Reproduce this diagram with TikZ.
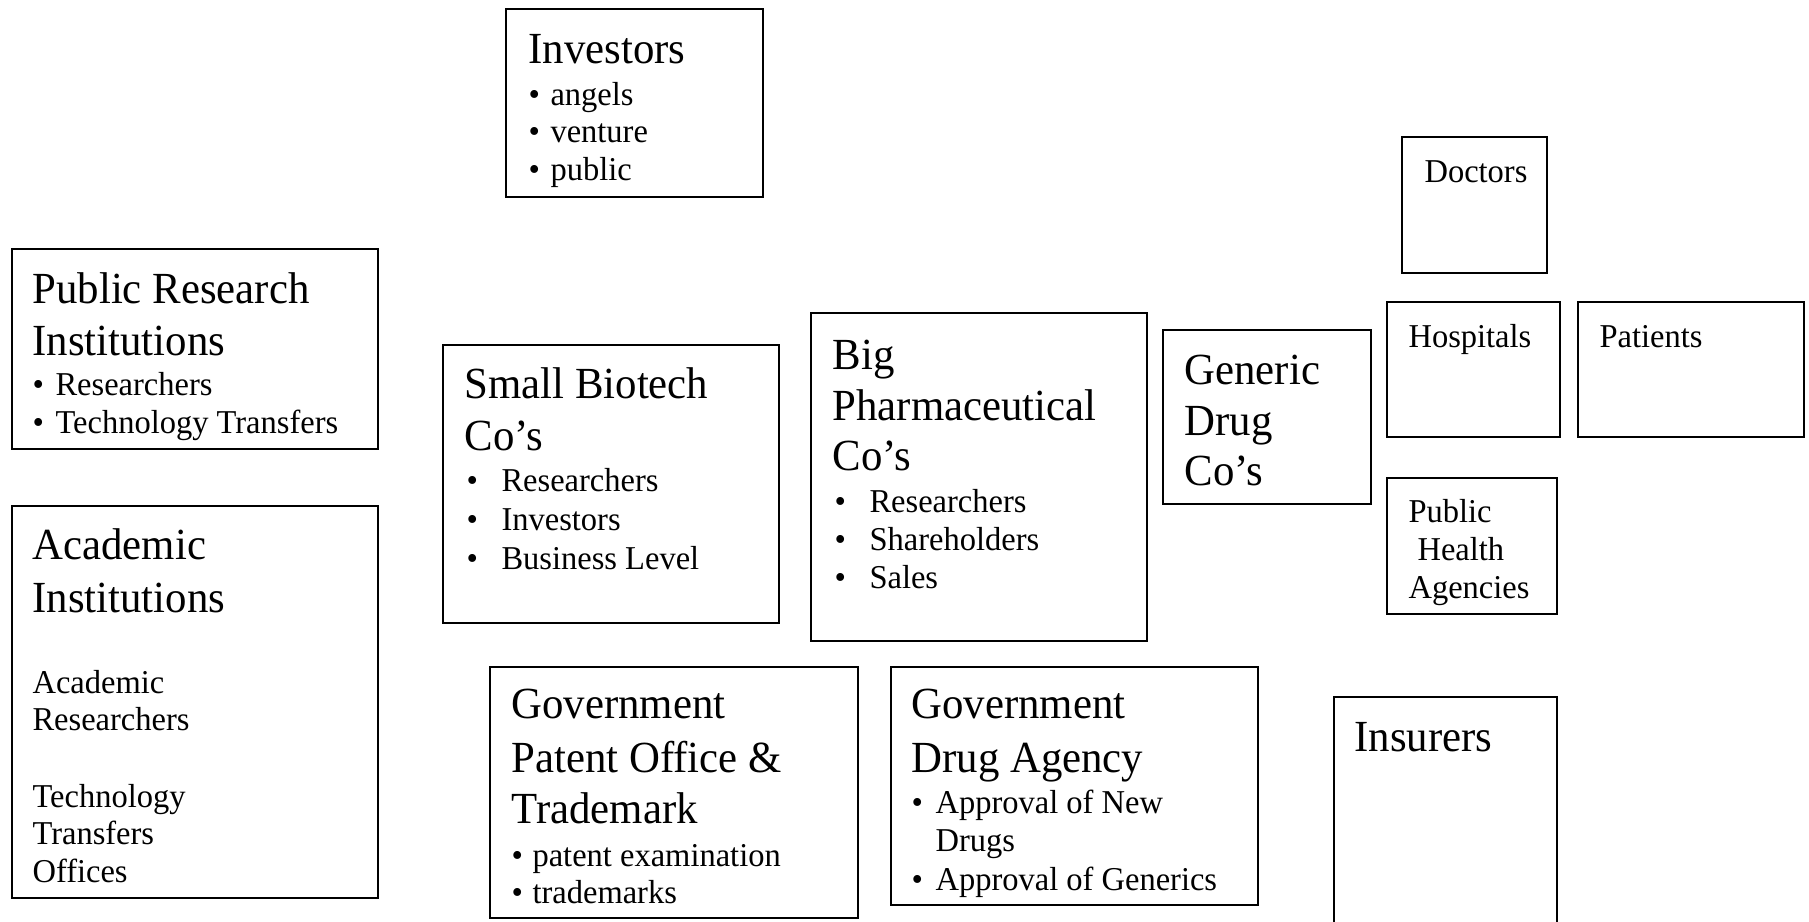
\documentclass[tikz,border=0pt]{standalone}
\usepackage{fontspec}
\setmainfont{Liberation Serif}[FakeStretch=0.963]
\newfontfamily\smallfnt{Liberation Serif}[FakeStretch=0.975]
\usetikzlibrary{fit}
\newlength\pxu \setlength\pxu{0.36pt}
\newcommand\bitem[2]{\makebox[#1\pxu][l]{•}#2}
\begin{document}
\begin{tikzpicture}[x=0.36pt,y=-0.36pt,
 box/.style={draw, line width=0.6pt, inner sep=0pt},
 big/.style={anchor=base west, inner sep=0pt, yshift=-0.9pt, font=\fontsize{16}{18}\selectfont},
 sml/.style={anchor=base west, inner sep=0pt, yshift=-1.45pt, font=\smallfnt\fontsize{12}{14}\selectfont}]
\useasboundingbox (0,0) rectangle (1809,922);
% boxes
\node[box, fit={(506,9)(763,197)}] (inv) {};
\node[box, fit={(12,249)(378,449)}] (pri) {};
\node[box, fit={(12,506)(378,898)}] (aca) {};
\node[box, fit={(443,345)(779,623)}] (sbc) {};
\node[box, fit={(811,313)(1147,641)}] (bpc) {};
\node[box, fit={(1163,330)(1371,504)}] (gdc) {};
\node[box, fit={(1402,137)(1547,273)}] (doc) {};
\node[box, fit={(1387,302)(1560,437)}] (hos) {};
\node[box, fit={(1578,302)(1804,437)}] (pat) {};
\node[box, fit={(1387,478)(1557,614)}] (pha) {};
\node[box, fit={(490,667)(858,918)}] (gpo) {};
\node[box, fit={(891,667)(1258,905)}] (gda) {};
\node[box, fit={(1334,697)(1557,940)}] (ins) {};
% Investors
\node[big] (inv-t) at (528,61) {Investors};
\node[sml] (inv-1) at (528,101) {\bitem{22}{angels}};
\node[sml] (inv-2) at (528,138) {\bitem{22}{venture}};
\node[sml] (inv-3) at (528,176) {\bitem{22}{public}};
% Public research
\node[big] (pri-t1) at (32,301) {Public Research};
\node[big] (pri-t2) at (32,353) {Institutions};
\node[sml] (pri-1) at (32,391) {\bitem{23}{Researchers}};
\node[sml] (pri-2) at (32,429) {\bitem{23}{Technology Transfers}};
% Academic
\node[big] (aca-t1) at (32,557) {Academic};
\node[big] (aca-t2) at (32,610) {Institutions};
\node[sml] (aca-1) at (32,689) {Academic};
\node[sml] (aca-2) at (32,726) {Researchers};
\node[sml] (aca-3) at (32,803) {Technology};
\node[sml] (aca-4) at (32,840) {Transfers};
\node[sml] (aca-5) at (32,878) {Offices};
% Small biotech
\node[big] (sbc-t1) at (464,396) {Small Biotech};
\node[big] (sbc-t2) at (464,448) {Co’s};
\node[sml] (sbc-1) at (466,487) {\bitem{35}{Researchers}};
\node[sml] (sbc-2) at (466,526) {\bitem{35}{Investors}};
\node[sml] (sbc-3) at (466,565) {\bitem{35}{Business Level}};
% Big pharma
\node[big] (bpc-t1) at (832,367) {Big};
\node[big] (bpc-t2) at (832,418) {Pharmaceutical};
\node[big] (bpc-t3) at (832,468) {Co’s};
\node[sml] (bpc-1) at (834,508) {\bitem{35}{Researchers}};
\node[sml] (bpc-2) at (834,546) {\bitem{35}{Shareholders}};
\node[sml] (bpc-3) at (834,584) {\bitem{35}{Sales}};
% Generic
\node[big] (gdc-t1) at (1184,382) {Generic};
\node[big] (gdc-t2) at (1184,433) {Drug};
\node[big] (gdc-t3) at (1184,483) {Co’s};
% small boxes
\node[sml] (doc-t) at (1424,178) {Doctors};
\node[sml] (hos-t) at (1408,343) {Hospitals};
\node[sml] (pat-t) at (1599,343) {Patients};
\node[sml] (pha-1) at (1408,518) {Public};
\node[sml] (pha-2) at (1417,556) {Health};
\node[sml] (pha-3) at (1408,594) {Agencies};
% Gov patent
\node[big] (gpo-t1) at (511,716) {Government};
\node[big] (gpo-t2) at (511,770) {Patent Office \&};
\node[big] (gpo-t3) at (511,821) {Trademark};
\node[sml] (gpo-1) at (511,862) {\bitem{21}{patent examination}};
\node[sml] (gpo-2) at (511,899) {\bitem{21}{trademarks}};
% Gov drug
\node[big] (gda-t1) at (911,716) {Government};
\node[big] (gda-t2) at (911,770) {Drug Agency};
\node[sml] (gda-1) at (911,809) {\bitem{24}{Approval of New}};
\node[sml] (gda-2) at (935,847) {Drugs};
\node[sml] (gda-3) at (911,886) {\bitem{24}{Approval of Generics}};
% Insurers
\node[big] (ins-t) at (1354,749) {Insurers};
\end{tikzpicture}
\end{document}
